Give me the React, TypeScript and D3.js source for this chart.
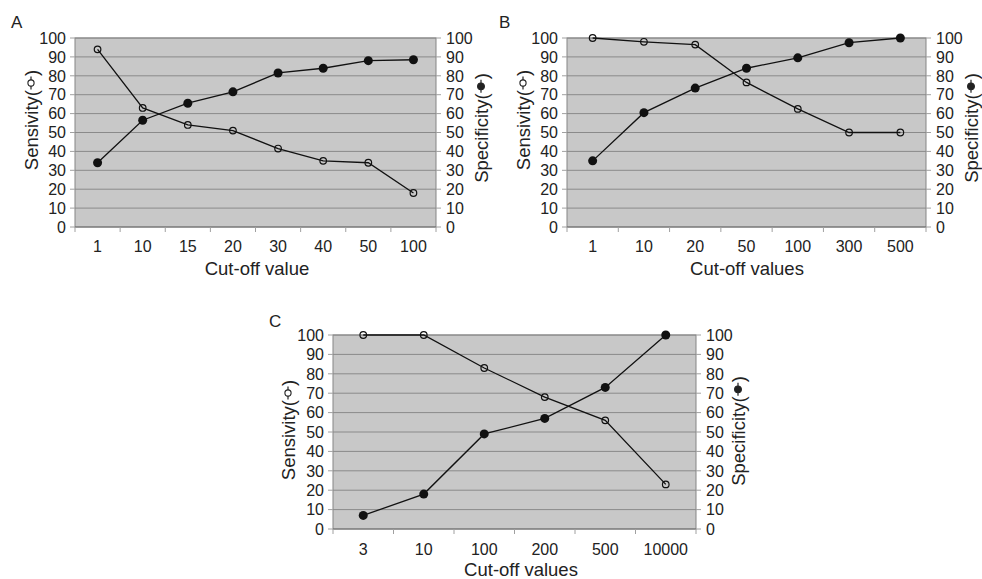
import { useEffect, useRef } from 'react';
import * as d3 from 'd3';

// Panel A
const cutoffsA = ['1', '10', '15', '20', '30', '40', '50', '100'];
const sensitivityA = [94, 63, 54, 51, 41.5, 35, 34, 18];
const specificityA = [34, 56.5, 65.5, 71.5, 81.5, 84, 88, 88.5];

// Panel B
const cutoffsB = ['1', '10', '20', '50', '100', '300', '500'];
const sensitivityB = [100, 98, 96.5, 76.5, 62.5, 50, 50];
const specificityB = [35, 60.5, 73.5, 84, 89.5, 97.5, 100];

// Panel C
const cutoffsC = ['3', '10', '100', '200', '500', '10000'];
const sensitivityC = [100, 100, 83, 68, 56, 23];
const specificityC = [7, 18, 49, 57, 73, 100];

const yTicks = [0, 10, 20, 30, 40, 50, 60, 70, 80, 90, 100];

const FONT = '"Liberation Sans", Arial, sans-serif';
const BG = '#c8c8c8';
const GRID = '#8a8a8a';
const BORDER = '#858585';
const TICK = '#a0a0a0';

const panels = [
  {
    letter: 'A', cats: cutoffsA, sens: sensitivityA, spec: specificityA, xTitle: 'Cut-off value',
    left: 75, right: 436, top: 38, bottom: 227,
    letterX: 11, letterY: 28,
    lTitleX: 38, lTitleY: 120, rTitleX: 488, rTitleY: 128,
    xTitleX: 257, xTitleY: 275, xLabelY: 252,
  },
  {
    letter: 'B', cats: cutoffsB, sens: sensitivityB, spec: specificityB, xTitle: 'Cut-off values',
    left: 567, right: 926, top: 38, bottom: 227,
    letterX: 499, letterY: 28,
    lTitleX: 530, lTitleY: 120, rTitleX: 978, rTitleY: 128,
    xTitleX: 747, xTitleY: 275, xLabelY: 252,
  },
  {
    letter: 'C', cats: cutoffsC, sens: sensitivityC, spec: specificityC, xTitle: 'Cut-off values',
    left: 333, right: 696, top: 335, bottom: 529,
    letterX: 269, letterY: 327,
    lTitleX: 295, lTitleY: 430, rTitleX: 745, rTitleY: 431,
    xTitleX: 521, xTitleY: 576, xLabelY: 555,
  },
];

// rotated axis title with a small line+marker symbol inside the parentheses
function drawTitle(g, x, cy, before, filled) {
  const t = g.append('g').attr('transform', `translate(${x},${cy}) rotate(-90)`);
  const t1 = t.append('text').attr('font-size', 18.5).attr('fill', '#222').text(before);
  const t2 = t.append('text').attr('font-size', 18.5).attr('fill', '#222').text(')');
  const w1 = t1.node().getComputedTextLength();
  const w2 = t2.node().getComputedTextLength();
  const symW = 14;
  const start = -(w1 + symW + w2) / 2;
  t1.attr('x', start);
  t2.attr('x', start + w1 + symW);
  const sx = start + w1 + symW / 2;
  const sy = -7;
  t.append('line')
    .attr('x1', sx - 6.5).attr('x2', sx + 6.5).attr('y1', sy).attr('y2', sy)
    .attr('stroke', '#222').attr('stroke-width', 1.2);
  t.append('circle')
    .attr('cx', sx).attr('cy', sy).attr('r', filled ? 3.4 : 3.1)
    .attr('fill', filled ? '#222' : '#fff')
    .attr('stroke', '#222').attr('stroke-width', 1.1);
}

function drawPanel(svg, p) {
  const g = svg.append('g').attr('font-family', FONT);

  const x = d3.scaleBand().domain(p.cats).range([p.left, p.right]).padding(0);
  const y = d3.scaleLinear().domain([0, 100]).range([p.bottom, p.top]);

  // plot area
  g.append('rect')
    .attr('x', p.left).attr('y', p.top)
    .attr('width', p.right - p.left).attr('height', p.bottom - p.top)
    .attr('fill', BG).attr('stroke', BORDER).attr('stroke-width', 1);

  // gridlines
  g.selectAll('.grid')
    .data(yTicks.filter((d) => d > 0))
    .enter()
    .append('line')
    .attr('x1', p.left).attr('x2', p.right)
    .attr('y1', (d) => y(d)).attr('y2', (d) => y(d))
    .attr('stroke', GRID).attr('stroke-width', 1);

  // bottom axis line
  g.append('line')
    .attr('x1', p.left).attr('x2', p.right)
    .attr('y1', p.bottom).attr('y2', p.bottom)
    .attr('stroke', '#707070').attr('stroke-width', 1.2);

  // left + right tick marks
  yTicks.forEach((d) => {
    g.append('line').attr('x1', p.left - 5).attr('x2', p.left)
      .attr('y1', y(d)).attr('y2', y(d)).attr('stroke', TICK);
    g.append('line').attr('x1', p.right).attr('x2', p.right + 5)
      .attr('y1', y(d)).attr('y2', y(d)).attr('stroke', TICK);
  });

  // bottom tick marks at category boundaries
  const bounds = p.cats.map((c) => x(c)).concat([p.right]);
  g.selectAll('.xtick')
    .data(bounds)
    .enter()
    .append('line')
    .attr('x1', (d) => d).attr('x2', (d) => d)
    .attr('y1', p.bottom).attr('y2', p.bottom + 5)
    .attr('stroke', TICK);

  // y tick labels
  g.selectAll('.yl')
    .data(yTicks)
    .enter()
    .append('text')
    .attr('x', p.left - 9)
    .attr('y', (d) => y(d))
    .attr('dy', '0.36em')
    .attr('text-anchor', 'end')
    .attr('font-size', 16)
    .attr('fill', '#222')
    .text((d) => d);

  g.selectAll('.yr')
    .data(yTicks)
    .enter()
    .append('text')
    .attr('x', p.right + 10)
    .attr('y', (d) => y(d))
    .attr('dy', '0.36em')
    .attr('font-size', 16)
    .attr('fill', '#222')
    .text((d) => d);

  // x tick labels
  g.selectAll('.xl')
    .data(p.cats)
    .enter()
    .append('text')
    .attr('x', (d) => x(d) + x.bandwidth() / 2)
    .attr('y', p.xLabelY)
    .attr('text-anchor', 'middle')
    .attr('font-size', 16)
    .attr('fill', '#222')
    .text((d) => d);

  // titles
  g.append('text')
    .attr('x', p.xTitleX).attr('y', p.xTitleY)
    .attr('text-anchor', 'middle')
    .attr('font-size', 18.5)
    .attr('fill', '#222')
    .text(p.xTitle);

  g.append('text')
    .attr('x', p.letterX).attr('y', p.letterY)
    .attr('font-size', 17)
    .attr('fill', '#222')
    .text(p.letter);

  drawTitle(g, p.lTitleX, p.lTitleY, 'Sensivity(', false);
  drawTitle(g, p.rTitleX, p.rTitleY, 'Specificity(', true);

  const cx = (i) => x(p.cats[i]) + x.bandwidth() / 2;
  const line = d3.line().x((d, i) => cx(i)).y((d) => y(d));

  // sensitivity (open markers)
  g.append('path').datum(p.sens)
    .attr('d', line).attr('fill', 'none')
    .attr('stroke', '#111').attr('stroke-width', 1.3);
  g.selectAll('.sens')
    .data(p.sens)
    .enter()
    .append('circle')
    .attr('cx', (d, i) => cx(i)).attr('cy', (d) => y(d))
    .attr('r', 3.3)
    .attr('fill', 'none')
    .attr('stroke', '#111').attr('stroke-width', 1.2);

  // specificity (filled markers)
  g.append('path').datum(p.spec)
    .attr('d', line).attr('fill', 'none')
    .attr('stroke', '#111').attr('stroke-width', 1.3);
  g.selectAll('.spec')
    .data(p.spec)
    .enter()
    .append('circle')
    .attr('cx', (d, i) => cx(i)).attr('cy', (d) => y(d))
    .attr('r', 4.5)
    .attr('fill', '#111');
}

export default function App() {
  const svgRef = useRef(null);

  useEffect(() => {
    const svg = d3.select(svgRef.current);
    svg.selectAll('*').remove();
    svg.append('rect').attr('width', 982).attr('height', 579).attr('fill', '#fff');
    panels.forEach((p) => drawPanel(svg, p));
  }, []);

  return (
    <svg
      ref={svgRef}
      width={982}
      height={579}
      style={{ position: 'absolute', left: 0, top: 0, display: 'block' }}
    />
  );
}
